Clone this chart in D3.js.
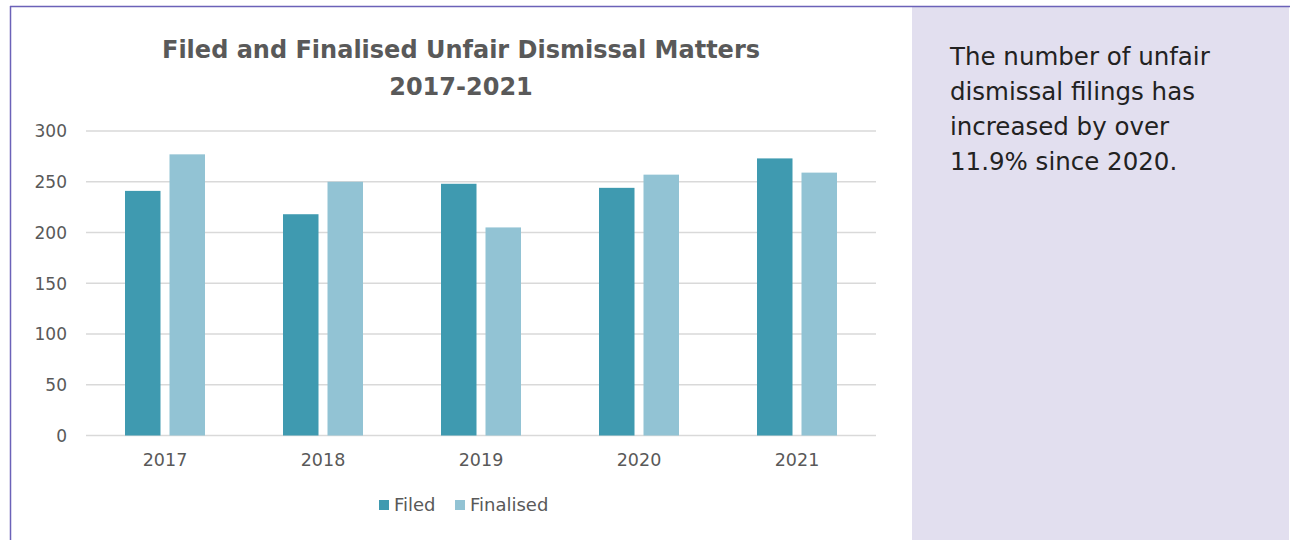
<!DOCTYPE html>
<html>
<head>
<meta charset="utf-8">
<script src="https://cdn.jsdelivr.net/npm/d3@7"></script>
<style>
  html, body { margin: 0; padding: 0; background: #ffffff; }
  svg { display: block; }
</style>
</head>
<body>
<svg id="chart" width="1290" height="540"></svg>
<script>
// Unfair dismissal matters, filed vs finalised, by year
const years = ["2017", "2018", "2019", "2020", "2021"];
const filed = [241, 218, 248, 244, 273];
const finalised = [277, 250, 205, 257, 259];
const seriesNames = ["Filed", "Finalised"];
const seriesColors = ["#3f9ab0", "#92c3d4"];
const yTicks = [0, 50, 100, 150, 200, 250, 300];
const titleLines = ["Filed and Finalised Unfair Dismissal Matters", "2017-2021"];
const noteLines = ["The number of unfair", "dismissal filings has", "increased by over", "11.9% since 2020."];

const svg = d3.select("#chart");
const font = "'DejaVu Sans', sans-serif";

// Side panel
svg.append("rect").attr("x", 912).attr("y", 6).attr("width", 377).attr("height", 534)
  .attr("fill", "#e2dfef");

// Outer frame (top and left edges)
svg.append("line").attr("x1", 10).attr("x2", 1290).attr("y1", 6.5).attr("y2", 6.5)
  .attr("stroke", "#6b62b8").attr("stroke-width", 1.5);
svg.append("line").attr("x1", 10.5).attr("x2", 10.5).attr("y1", 6).attr("y2", 540)
  .attr("stroke", "#6b62b8").attr("stroke-width", 1.5);

// Plot area
const plot = { left: 86, right: 876, top: 131, bottom: 435.5 };

const x = d3.scaleBand().domain(years).range([plot.left, plot.right]).paddingInner(0).paddingOuter(0);
const y = d3.scaleLinear().domain([0, 300]).range([plot.bottom, plot.top]);
const barW = 35.5, gap = 9;

// Gridlines
svg.append("g").selectAll("line").data(yTicks).join("line")
  .attr("x1", plot.left).attr("x2", plot.right)
  .attr("y1", d => y(d)).attr("y2", d => y(d))
  .attr("stroke", "#d9d9d9").attr("stroke-width", 1.3);

// Y axis labels
const yAxis = d3.axisLeft(y).tickValues(yTicks).tickSize(0).tickPadding(0);
const yg = svg.append("g").attr("transform", `translate(${67},0)`).call(yAxis);
yg.select(".domain").remove();
yg.selectAll("text").attr("font-family", font).attr("font-size", 17)
  .attr("fill", "#595959").attr("dy", "0.35em");

// X axis labels
const xAxis = d3.axisBottom(x).tickSize(0).tickPadding(0);
const xg = svg.append("g").attr("transform", `translate(0,${plot.bottom + 18})`).call(xAxis);
xg.select(".domain").remove();
xg.selectAll("text").attr("font-family", font).attr("font-size", 17.5)
  .attr("fill", "#595959").attr("dy", "0.71em");

// Bars
const series = [filed, finalised];
series.forEach((vals, si) => {
  svg.append("g").selectAll("rect").data(years).join("rect")
    .attr("x", (d, i) => x(d) + x.bandwidth() / 2 + (si === 0 ? -gap / 2 - barW : gap / 2))
    .attr("y", (d, i) => y(vals[i]))
    .attr("width", barW)
    .attr("height", (d, i) => y(0) - y(vals[i]))
    .attr("fill", seriesColors[si]);
});

// Title
svg.append("g").selectAll("text").data(titleLines).join("text")
  .attr("x", 461).attr("y", (d, i) => 58 + i * 36.5)
  .attr("text-anchor", "middle")
  .attr("font-family", font).attr("font-weight", "bold").attr("font-size", 24)
  .attr("fill", "#595959")
  .text(d => d);

// Legend
const legend = svg.append("g").attr("transform", "translate(379,505)");
const lx = [0, 76];
seriesNames.forEach((name, i) => {
  legend.append("rect").attr("x", lx[i]).attr("y", -5).attr("width", 10).attr("height", 10)
    .attr("fill", seriesColors[i]);
  legend.append("text").attr("x", lx[i] + 15).attr("y", 0).attr("dy", "0.35em")
    .attr("font-family", font).attr("font-size", 18).attr("fill", "#595959")
    .text(name);
});

// Side note
svg.append("g").selectAll("text").data(noteLines).join("text")
  .attr("x", 950).attr("y", (d, i) => 65 + i * 35)
  .attr("font-family", font).attr("font-size", 24.5).attr("fill", "#222222")
  .text(d => d);
</script>
</body>
</html>
